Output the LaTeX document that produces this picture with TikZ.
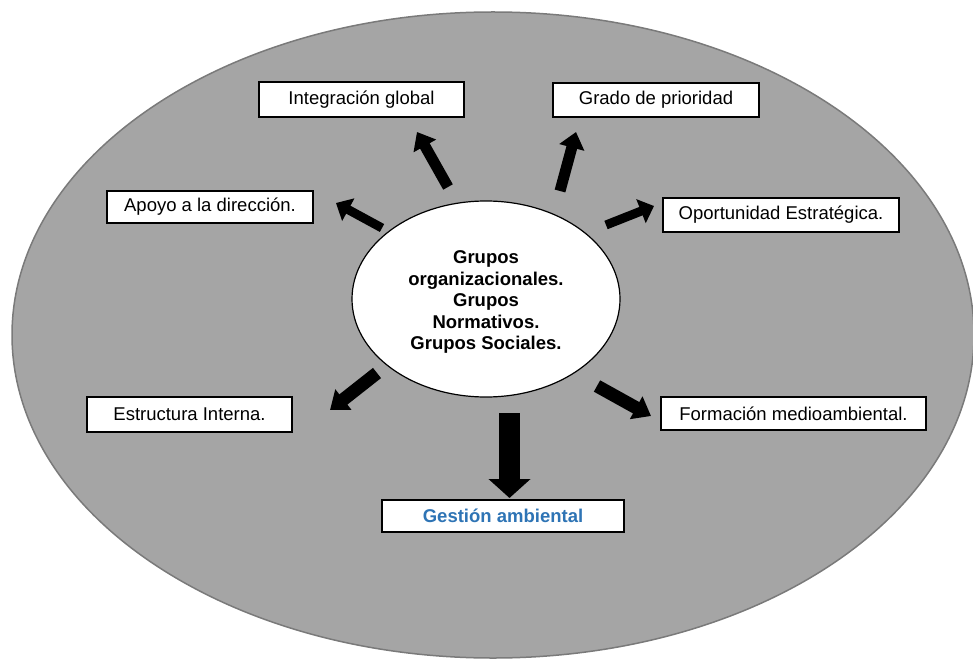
\documentclass[tikz,border=0pt]{standalone}
\usepackage{fontspec}
\setmainfont{Liberation Sans}
\usetikzlibrary{arrows.meta,shapes.geometric}
\definecolor{field}{HTML}{A5A5A5}
\definecolor{fieldedge}{HTML}{7A7A7A}
\definecolor{titleblue}{HTML}{2E74B5}
\begin{document}
\begin{tikzpicture}[x=1pt,y=-1pt,
  labelbox/.style={draw=black, fill=white, line width=1.3pt, inner sep=0pt,
    font=\fontsize{18.5}{22}\selectfont, align=center},
  bigarrow/.style 2 args={line width=#1, draw=black,
    -{Triangle[length=#2, width=25pt]}},
]
\useasboundingbox (0,0) rectangle (973,660);

% grey field behind everything
\draw[fieldedge, fill=field, line width=1.5pt] (493,335) ellipse [x radius=481pt, y radius=323pt];

% central group
\node (hub) [ellipse, draw=black, fill=white, line width=1.2pt, inner sep=0pt,
  minimum width=268pt, minimum height=196pt] at (486,299) {};
\node (hubtext) [align=center, inner sep=0pt,
  font=\bfseries\fontsize{18.5}{21.5}\selectfont] at (486,302)
  {Grupos\\organizacionales.\\Grupos\\Normativos.\\Grupos Sociales.};

% surrounding boxes
\node (integ) [labelbox, minimum width=205pt, minimum height=35pt] at (361.5,99.5) {Integración global};
\node (grado) [labelbox, minimum width=206pt, minimum height=34pt] at (656,100) {Grado de prioridad};
\node (apoyo) [labelbox, minimum width=206pt, minimum height=32pt] at (210,207) {Apoyo a la dirección.};
\node (oport) [labelbox, minimum width=236pt, minimum height=34pt] at (781,215) {Oportunidad Estratégica.};
\node (estru) [labelbox, minimum width=205pt, minimum height=35pt] at (189.5,414.5) {Estructura Interna.};
\node (forma) [labelbox, minimum width=265pt, minimum height=33pt] at (793.5,413.5) {Formación medioambiental.};
\node (gesti) [labelbox, minimum width=242pt, minimum height=32pt,
  text=titleblue, font=\bfseries\fontsize{18.5}{22}\selectfont] at (503,516) {Gestión ambiental};

% arrow ends
\coordinate (t1) at (448,187); \coordinate (h1) at (417,132);
\coordinate (t2) at (560,191); \coordinate (h2) at (576,132);
\coordinate (t3) at (382,228); \coordinate (h3) at (336,203);
\coordinate (t4) at (606,225); \coordinate (h4) at (654,206);
\coordinate (t5) at (377,373); \coordinate (h5) at (330,410);
\coordinate (t6) at (597,386); \coordinate (h6) at (651,416);
\coordinate (t7) at (509.5,413); \coordinate (h7) at (509.5,498);

% block arrows from the centre outwards
\draw[bigarrow={11pt}{16pt}] (t1) -- (h1);
\draw[bigarrow={11pt}{16pt}] (t2) -- (h2);
\draw[bigarrow={9pt}{14pt}] (t3) -- (h3);
\draw[bigarrow={9pt}{14pt}] (t4) -- (h4);
\draw[bigarrow={13pt}{17pt}] (t5) -- (h5);
\draw[bigarrow={13pt}{17pt}] (t6) -- (h6);
\draw[line width=21pt, -{Triangle[length=19pt, width=41pt]}] (t7) -- (h7);
\end{tikzpicture}
\end{document}
